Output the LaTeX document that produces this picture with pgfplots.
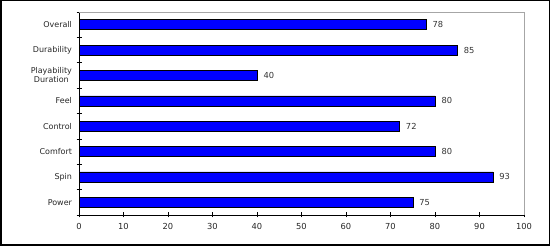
\documentclass[border=0pt]{standalone}
\usepackage{fontspec}
\setmainfont{DejaVu Sans}
\usepackage{pgfplots}
\pgfplotsset{compat=1.18}
\begin{document}
\begin{tikzpicture}[x=1pt,y=1pt]
\draw[line width=1.5pt] (0.75,0.75) rectangle (549.25,245.25);
\begin{axis}[at={(79pt,31pt)}, anchor=south west, scale only axis,
  width=445pt, height=203pt,
  xbar, bar width=10pt,
  xmin=0, xmax=100, ymin=-0.5, ymax=7.5,
  axis x line*=bottom, axis y line*=left,
  axis line style={line width=0.8pt, black},
  xtick={0,10,...,100},
  ytick={0,...,7},
  yticklabels={Power,Spin,Comfort,Control,Feel,{Playability\\Duration},Durability,Overall},
  yticklabel style={align=center, font=\fontsize{8}{9}\selectfont, xshift=-1pt, text=black!85},
  xticklabel style={font=\fontsize{8.3}{9}\selectfont, yshift=-2pt, text=black!85},
  /pgf/number format/assume math mode=true,
  major y tick style={draw=none},
  minor ytick={-0.5,0.5,1.5,2.5,3.5,4.5,5.5,6.5,7.5},
  tick align=center, major tick length=5pt, minor tick length=5pt,
  tick style={black, line width=0.6pt},
  nodes near coords,
  every node near coord/.append style={font=\fontsize{8.3}{9}\selectfont, color=black!80, xshift=3pt},
  clip=false,
]
\addplot[fill=blue, draw=black, line width=0.5pt] coordinates {
 (75,0) (93,1) (80,2) (72,3) (80,4) (40,5) (85,6) (78,7)};
\draw[gray!70, line width=0.8pt] (rel axis cs:0,1) -- (rel axis cs:1,1) -- (rel axis cs:1,0);
\end{axis}
\end{tikzpicture}
\end{document}
